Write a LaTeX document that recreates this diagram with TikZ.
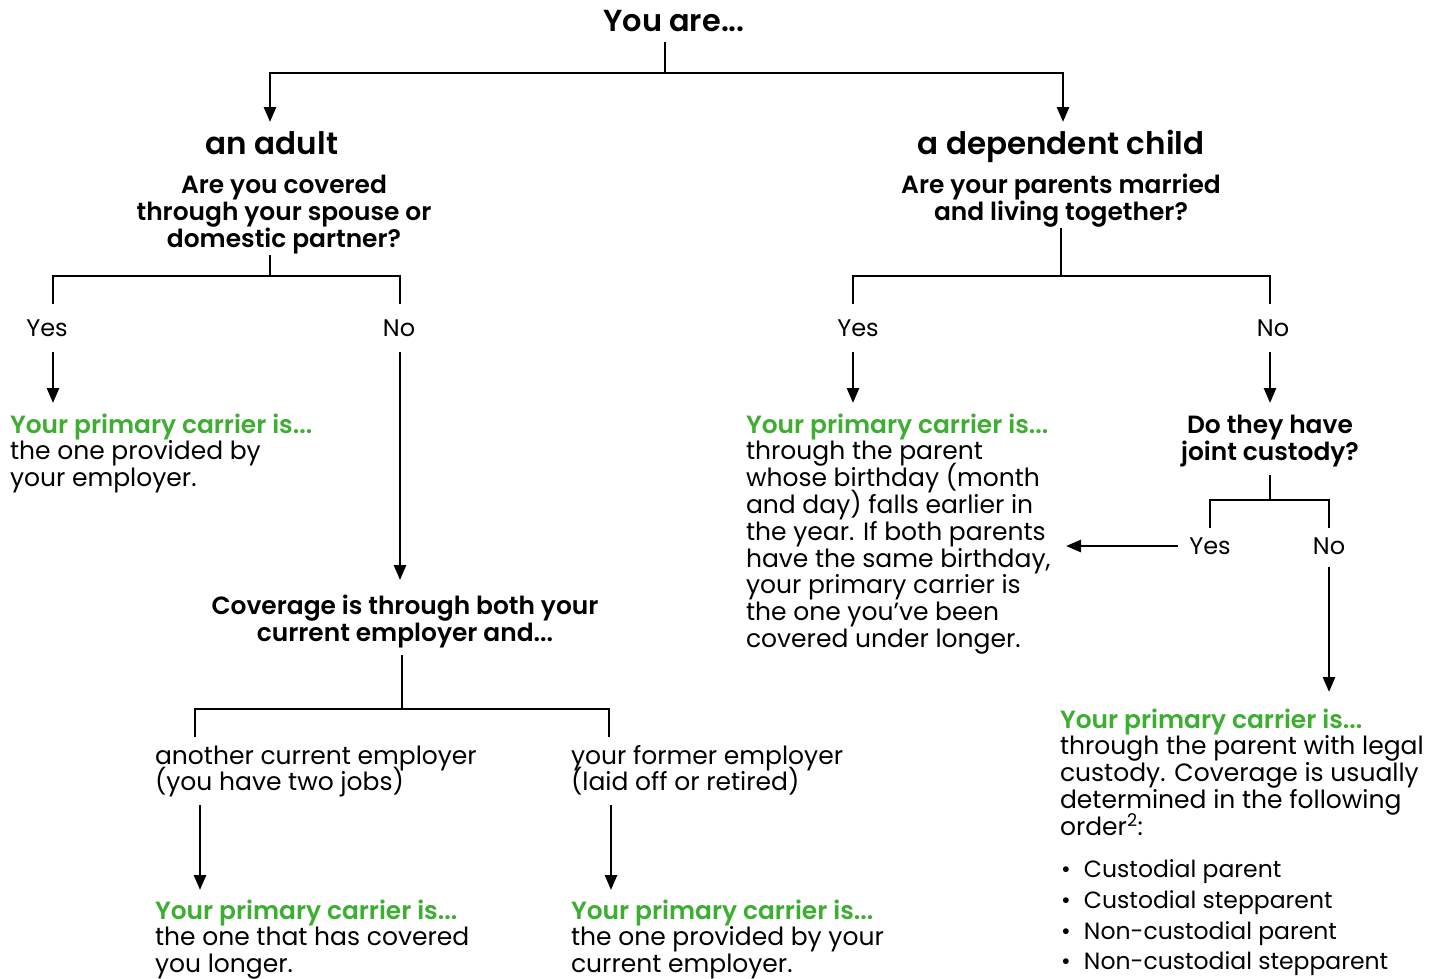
\documentclass[tikz,border=0pt]{standalone}
\usepackage{fontspec}
\setmainfont{Poppins}[BoldFont={Poppins SemiBold}]
\usetikzlibrary{arrows.meta}
\definecolor{cgreen}{RGB}{61,174,50}
\newcommand{\gtitle}{\textcolor{cgreen}{\fontsize{24.9}{26.8}\selectfont\bfseries Your primary carrier is...}}
\newcommand{\tightlines}{\lineskiplimit=-100pt\lineskip=0pt}
\tikzset{
  every node/.style={inner sep=0pt, outer sep=0pt},
  body/.style={font=\fontsize{25}{26.8}\selectfont\tightlines, align=left, anchor=base west},
  qbox/.style={font=\fontsize{24.9}{27}\selectfont\bfseries\tightlines, align=center, anchor=base},
  headbox/.style={font=\fontsize{31}{34}\selectfont\bfseries, anchor=base},
  yn/.style={font=\fontsize{24}{27}\selectfont, anchor=base},
  bul/.style={font=\fontsize{23.5}{27}\selectfont, anchor=base west},
  link/.style={line width=2.7pt},
  arr/.style={link, -{Triangle[length=15pt,width=12pt]}},
}
\begin{document}
\begin{tikzpicture}[x=1pt,y=-1pt]
\useasboundingbox (0,0) rectangle (1445,978);
\fill[white] (0,0) rectangle (1445,978);
% texts (multi-line nodes are placed by the baseline of their last line)
\node[headbox, font=\fontsize{30.4}{32}\selectfont\bfseries] (you) at (674,31) {You are...};
\node[headbox] (adult) at (272,154) {an adult};
\node[headbox] (child) at (1061,154) {a dependent child};
\node[qbox] (q1) at (284,247) {Are you covered\\through your spouse or\\domestic partner?};
\node[qbox] (q2) at (1061,220) {Are your parents married\\and living together?};
\node[yn] (yes1) at (47,336) {Yes};
\node[yn] (no1) at (399,336) {No};
\node[body] (res1) at (10,486.6) {\gtitle\\the one provided by\\your employer.};
\node[qbox] (cov) at (405,641) {Coverage is through both your\\current employer and...};
\node[body] (opt1) at (155,790.8) {another current employer\\(you have two jobs)};
\node[body] (opt2) at (571,790.8) {your former employer\\(laid off or retired)};
\node[body] (res2) at (155,972.6) {\gtitle\\the one that has covered\\you longer.};
\node[body] (res3) at (571,972.6) {\gtitle\\the one provided by your\\current employer.};
\node[yn] (yes2) at (858,336) {Yes};
\node[yn] (no2) at (1273,336) {No};
\node[body] (res4) at (746,647.4) {\gtitle\\through the parent\\whose birthday (month\\and day) falls earlier in\\the year. If both parents\\have the same birthday,\\your primary carrier is\\the one you’ve been\\covered under longer.};
\node[qbox] (q3) at (1270,460) {Do they have\\joint custody?};
\node[yn] (yes3) at (1210,554) {Yes};
\node[yn] (no3) at (1329,554) {No};
\node[body] (res5) at (1060,835.2) {\gtitle\\through the parent with legal\\custody. Coverage is usually\\determined in the following\\order\textsuperscript{2}:};
\node[bul] (b1) at (1061,877) {\makebox[23pt][l]{\textbullet}Custodial parent};
\node[bul] (b2) at (1061,908) {\makebox[23pt][l]{\textbullet}Custodial stepparent};
\node[bul] (b3) at (1061,939) {\makebox[23pt][l]{\textbullet}Non-custodial parent};
\node[bul] (b4) at (1061,969) {\makebox[23pt][l]{\textbullet}Non-custodial stepparent};
% connectors
\coordinate (t0) at (665,42); \coordinate (t1) at (665,73);
\draw[link] (t0) -- (t1);
\draw[arr] (t1) -| (270,122);
\draw[arr] (t1) -| (1063,122);
\coordinate (a0) at (270,255); \coordinate (a1) at (270,276);
\draw[link] (a0) -- (a1);
\draw[link] (53,304) |- (a1) -| (400,304);
\draw[arr] (53,352) -- (53,403);
\draw[arr] (400,352) -- (400,580);
\coordinate (c0) at (402,655); \coordinate (c1) at (402,709);
\draw[link] (c0) -- (c1);
\draw[link] (195,737) |- (c1) -| (609,737);
\draw[arr] (200,805) -- (200,890);
\draw[arr] (611,805) -- (611,890);
\coordinate (d0) at (1061,228); \coordinate (d1) at (1061,276);
\draw[link] (d0) -- (d1);
\draw[link] (853,304) |- (d1) -| (1270,304);
\draw[arr] (853,352) -- (853,403);
\draw[arr] (1270,352) -- (1270,403);
\coordinate (j0) at (1270,475); \coordinate (j1) at (1270,500);
\draw[link] (j0) -- (j1);
\draw[link] (1210,528) |- (j1) -| (1329,528);
\draw[arr] (1178,546) -- (1066,546);
\draw[arr] (1329,567) -- (1329,692);
\end{tikzpicture}
\end{document}
